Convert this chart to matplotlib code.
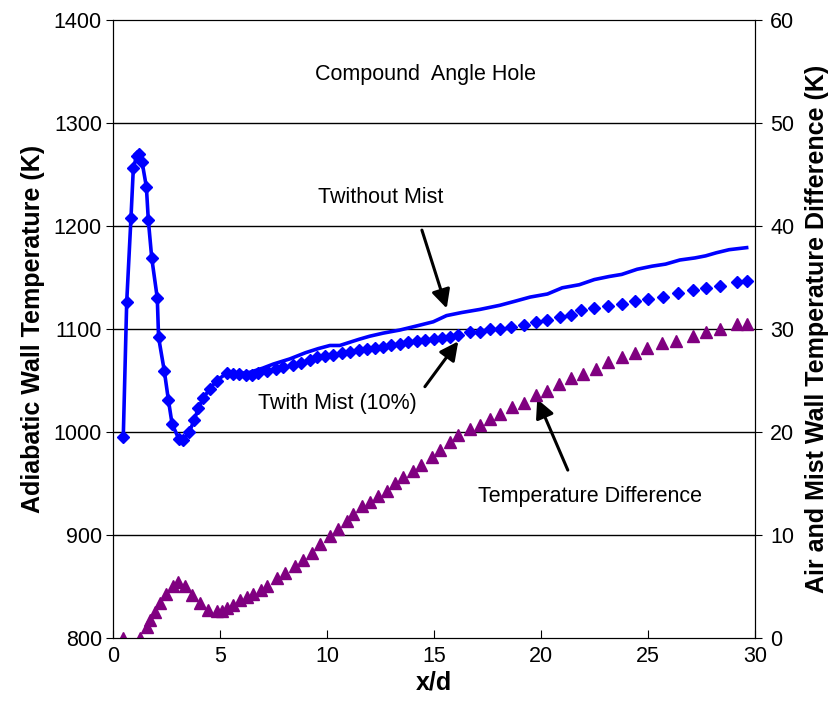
import matplotlib
matplotlib.use('Agg')
from matplotlib import pyplot as plt

plt.rcParams['font.family'] = ['Liberation Sans', 'DejaVu Sans']

# 无雾绝热壁温 (实线)
x_dry = [0.48, 0.64, 0.84, 0.95, 1.10, 1.21, 1.36, 1.56, 1.65, 1.81, 2.07, 2.13, 2.40, 2.59, 2.76,
         3.08, 3.29, 3.57, 3.80, 3.99, 4.22, 4.53, 4.85, 5.31, 6.0, 6.4, 7.0, 7.5, 8.27, 9.0, 9.6,
         10.14, 10.6, 11.5, 12.0, 12.63, 13.41, 14.2, 14.97, 15.59, 16.3, 17.15, 18.08, 18.8, 19.5,
         20.31, 21.0, 21.8, 22.5, 23.2, 23.78, 24.5, 25.2, 25.83, 26.5, 27.2, 27.7, 28.2, 28.8, 29.62]
T_dry = [995, 1126, 1208, 1256, 1268, 1270, 1262, 1238, 1206, 1169, 1130, 1092, 1059, 1031, 1008,
         993, 992, 1000, 1012, 1023, 1033, 1042, 1050, 1057, 1057, 1058, 1062, 1066, 1071, 1077, 1081,
         1084, 1084, 1090, 1093, 1096, 1099, 1103, 1107, 1113, 1116, 1119, 1123, 1127, 1131,
         1134, 1140, 1143, 1148, 1151, 1153, 1158, 1161, 1163, 1167, 1169, 1171, 1174, 1177, 1179]

# 10%雾 绝热壁温 (菱形)
x_mist = [0.48, 0.64, 0.84, 0.95, 1.10, 1.21, 1.36, 1.56, 1.65, 1.81, 2.07, 2.13, 2.40, 2.59, 2.76,
          3.08, 3.29, 3.57, 3.80, 3.99, 4.22, 4.53, 4.85, 5.31, 5.6, 5.9, 6.2, 6.5, 6.8, 7.2, 7.6,
          7.96, 8.4, 8.8, 9.2, 9.52, 9.9, 10.3, 10.7, 11.07, 11.5, 11.85, 12.25, 12.63, 13.0, 13.4,
          13.8, 14.19, 14.6, 15.0, 15.37, 15.75, 16.14, 16.68, 17.15, 17.62, 18.1, 18.6, 19.2, 19.75,
          20.3, 20.9, 21.4, 21.9, 22.5, 23.15, 23.8, 24.4, 25.0, 25.7, 26.4, 27.1, 27.7, 28.36, 29.15,
          29.62]
T_mist = [995, 1126, 1208, 1256, 1268, 1270, 1262, 1238, 1206, 1169, 1130, 1092, 1059, 1031, 1008,
          993, 992, 1000, 1012, 1023, 1033, 1042, 1050, 1057, 1056, 1056, 1055, 1055, 1057, 1059, 1061,
          1063, 1065, 1067, 1070, 1073, 1074, 1075, 1077, 1078, 1080, 1081, 1082, 1083, 1084, 1085,
          1087, 1088, 1089, 1090, 1091, 1092, 1094, 1097, 1097, 1100, 1100, 1102, 1104, 1107,
          1109, 1112, 1114, 1118, 1120, 1122, 1124, 1127, 1129, 1131, 1135, 1138, 1140, 1142, 1146,
          1147]

# 温差 (三角形, 右轴)
x_diff = [0.48, 1.26, 1.57, 1.73, 1.96, 2.2, 2.5, 2.82, 3.05, 3.36, 3.68, 4.07, 4.45, 4.85, 5.1,
          5.31, 5.6, 5.93, 6.25, 6.56, 6.9, 7.18, 7.65, 8.04, 8.5, 8.9, 9.28, 9.67, 10.14, 10.53,
          10.92, 11.23, 11.62, 12.0, 12.4, 12.79, 13.18, 13.57, 14.03, 14.42, 14.9, 15.28, 15.75,
          16.14, 16.68, 17.15, 17.6, 18.1, 18.65, 19.2, 19.75, 20.3, 20.86, 21.41, 21.96, 22.6,
          23.15, 23.78, 24.4, 24.96, 25.67, 26.3, 27.1, 27.7, 28.36, 29.15, 29.62]
dT = [0, 0, 1.1, 1.7, 2.5, 3.4, 4.3, 5.0, 5.4, 5.0, 4.2, 3.4, 2.7, 2.6, 2.6,
      2.9, 3.2, 3.7, 4.0, 4.3, 4.7, 5.0, 5.8, 6.3, 6.95, 7.6, 8.3, 9.1, 9.9, 10.6,
      11.4, 12.0, 12.8, 13.2, 13.8, 14.3, 15.0, 15.6, 16.2, 16.8, 17.6, 18.3, 19.0,
      19.7, 20.3, 20.7, 21.3, 21.7, 22.4, 22.8, 23.6, 24.0, 24.7, 25.2, 25.6, 26.1,
      26.8, 27.3, 27.7, 28.2, 28.6, 28.8, 29.3, 29.7, 30.0, 30.5, 30.5]

fig = plt.figure(figsize=(8.34, 7.07), dpi=100)
ax = fig.add_axes([0.1355, 0.0976, 0.7695, 0.8741])
ax2 = ax.twinx()

ax.plot(x_dry, T_dry, '-', color='#0000FF', linewidth=2.6, zorder=3)
ax.plot(x_mist, T_mist, 'D', color='#0000FF', markersize=6.5, zorder=4)
ax2.plot(x_diff, dT, '^', color='#800080', markersize=8.5, linestyle='none')

ax.set_xlim(0, 30)
ax.set_ylim(800, 1400)
ax2.set_ylim(0, 60)
ax.set_xticks(range(0, 31, 5))
ax.set_yticks(range(800, 1401, 100))
ax2.set_yticks(range(0, 61, 10))
for v in range(900, 1400, 100):
    ax.axhline(v, color='black', linewidth=1, zorder=1)

ax.tick_params(axis='x', direction='in', labelsize=15.5, length=6, pad=6)
ax.tick_params(axis='y', direction='out', labelsize=15.5, length=5, pad=3)
ax2.tick_params(axis='y', direction='out', labelsize=15.5, length=5, pad=6)

ax.set_xlabel('x/d', fontsize=18, fontweight='bold', labelpad=2)
ax.set_ylabel('Adiabatic Wall Temperature (K)', fontsize=18, fontweight='bold', labelpad=6)
ax2.set_ylabel('Air and Mist Wall Temperature Difference (K)', fontsize=18, fontweight='bold', labelpad=8)

# 文字与箭头标注
arrow = dict(arrowstyle='-|>', color='black', lw=2.2, mutation_scale=28, shrinkA=0, shrinkB=0)
ax.text(14.6, 1347, 'Compound  Angle Hole', fontsize=15.5, ha='center', va='center')
ax.text(12.5, 1228, 'Twithout Mist', fontsize=15.5, ha='center', va='center')
ax.annotate('', xy=(15.6, 1120), xytext=(14.44, 1196), arrowprops=arrow)
ax.text(10.5, 1028, 'Twith Mist (10%)', fontsize=15.5, ha='center', va='center')
ax.annotate('', xy=(16.14, 1088), xytext=(14.58, 1044), arrowprops=arrow)
ax.text(22.3, 937, 'Temperature Difference', fontsize=15.5, ha='center', va='center')
ax.annotate('', xy=(19.83, 1032), xytext=(21.26, 963), arrowprops=arrow)

plt.savefig('out.png', dpi=100)
